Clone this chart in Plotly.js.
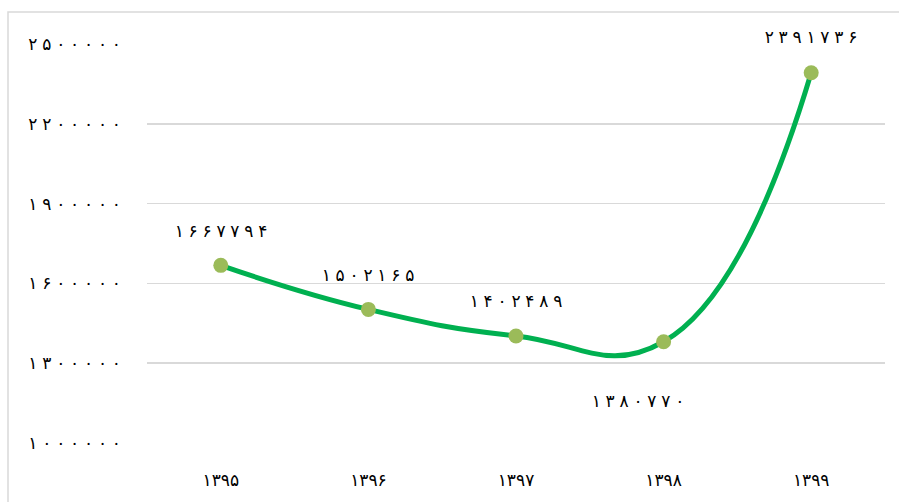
<!DOCTYPE html>
<html>
<head>
<meta charset="utf-8">
<script src="https://cdn.plot.ly/plotly-3.0.1.min.js"></script>
<style>
html,body{margin:0;padding:0;background:#fff;}
#chart{width:899px;height:502px;}
</style>
</head>
<body>
<div id="chart"></div>
<script>
const years = ['۱۳۹۵', '۱۳۹۶', '۱۳۹۷', '۱۳۹۸', '۱۳۹۹'];
const values = [1667794, 1502165, 1402489, 1380770, 2391736];
const yTickVals = [1000000, 1300000, 1600000, 1900000, 2200000, 2500000];
const yTickText = ['۱۰۰۰۰۰۰', '۱۳۰۰۰۰۰', '۱۶۰۰۰۰۰', '۱۹۰۰۰۰۰', '۲۲۰۰۰۰۰', '۲۵۰۰۰۰۰'];
const labelShiftX = [0, 0, 0, -26, 0];
const labelShiftY = [34, 34, 35, -59, 36];

function toPersian(n) {
  const d = '۰۱۲۳۴۵۶۷۸۹';
  return String(n).replace(/[0-9]/g, c => d[+c]);
}

const FONT = '"DejaVu Sans", "Noto Sans", sans-serif';

const trace = {
  type: 'scatter',
  mode: 'lines+markers',
  x: years,
  y: values,
  line: {color: '#00B050', width: 5, shape: 'spline', smoothing: 1.3},
  marker: {color: '#9BBB59', size: 15, line: {width: 0}},
  hoverinfo: 'skip',
  cliponaxis: false
};

const annotations = years.map((yr, i) => ({
  x: yr, y: values[i], xref: 'x', yref: 'y',
  text: toPersian(values[i]),
  showarrow: false,
  xshift: labelShiftX[i], yshift: labelShiftY[i],
  font: {family: FONT, size: 17, color: '#000'}
}));

const layout = {
  width: 899, height: 502,
  margin: {l: 147, r: 14, t: 44, b: 59, pad: 0},
  paper_bgcolor: '#fff', plot_bgcolor: '#fff',
  showlegend: false,
  xaxis: {
    type: 'category',
    range: [-0.5, 4.5],
    showgrid: false, zeroline: false, showline: false,
    ticks: '',
    ticklabelstandoff: 25,
    tickfont: {family: FONT, size: 17, color: '#000'},
    fixedrange: true
  },
  yaxis: {
    range: [1000000, 2500000],
    tickmode: 'array', tickvals: yTickVals, ticktext: yTickText,
    showgrid: true, gridcolor: '#d9d9d9', gridwidth: 1.5,
    zeroline: false, showline: false, ticks: '',
    ticklabelstandoff: 25,
    tickfont: {family: FONT, size: 17, color: '#000'},
    fixedrange: true
  },
  annotations: annotations,
  shapes: [{
    type: 'rect', xref: 'paper', yref: 'paper',
    x0: (8 - 147) / 738, x1: 1.5, y0: -1, y1: (443 - 12) / 399,
    line: {color: '#d9d9d9', width: 1.5}, fillcolor: 'rgba(0,0,0,0)', layer: 'below'
  }]
};

Plotly.newPlot('chart', [trace], layout, {displayModeBar: false, staticPlot: true}).then(gd => {
  // widen digit spacing as in the original (Persian digit font is wider-set)
  gd.querySelectorAll('.ytick text, .annotation-text').forEach(t => {
    const w = t.getComputedTextLength();
    t.setAttribute('lengthAdjust', 'spacing');
    t.setAttribute('textLength', (w * 1.45).toFixed(1));
  });
});
</script>
</body>
</html>
